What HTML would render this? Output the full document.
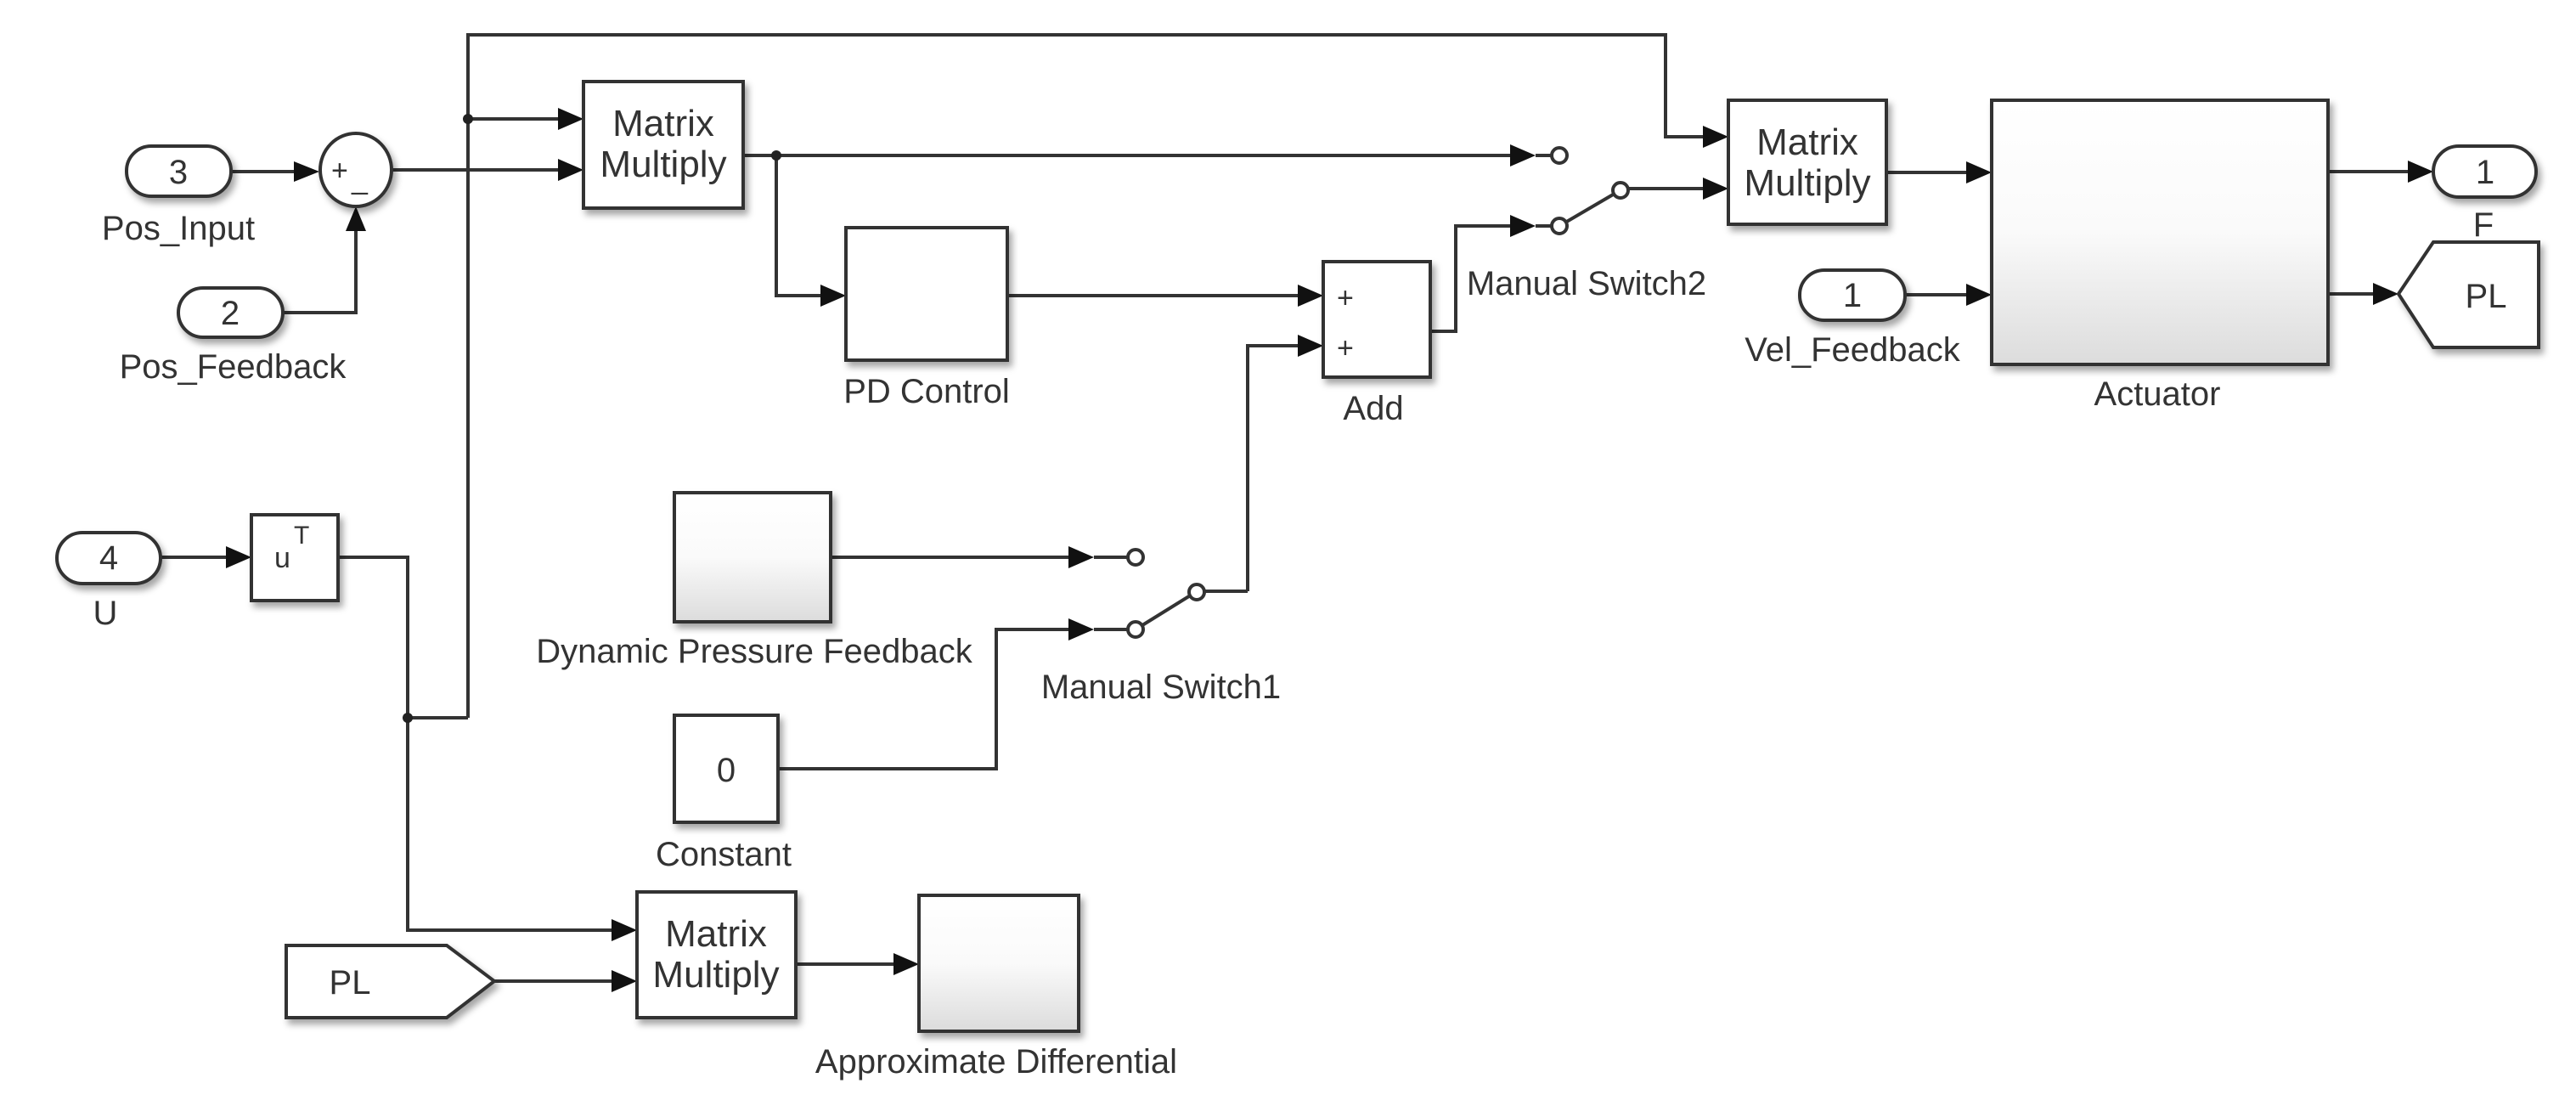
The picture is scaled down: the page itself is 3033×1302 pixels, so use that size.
<!DOCTYPE html>
<html><head><meta charset="utf-8"><style>
html,body{margin:0;padding:0;background:#fff}
svg{display:block}
text{font-family:"Liberation Sans",Arial,sans-serif;fill:#333}
</style></head><body>
<svg width="3033" height="1302" viewBox="0 0 3033 1302" xmlns="http://www.w3.org/2000/svg">
<defs>
<filter id="sh" x="-10%" y="-10%" width="130%" height="130%"><feDropShadow dx="4" dy="6" stdDeviation="4" flood-color="#000" flood-opacity="0.35"/></filter>
<linearGradient id="g" x1="0" y1="0" x2="0" y2="1"><stop offset="0" stop-color="#ffffff"/><stop offset="0.5" stop-color="#fafafa"/><stop offset="1" stop-color="#dcdcdc"/></linearGradient>
</defs>
<g fill="none" stroke="#333" stroke-width="4">
<polyline points="551,845 551,41 1961,41 1961,161 2010,161"/>
<line x1="551" y1="140" x2="665" y2="140"/>
<line x1="461" y1="200" x2="665" y2="200"/>
<line x1="272" y1="202" x2="350" y2="202"/>
<polyline points="333,368 419,368 419,270"/>
<line x1="875" y1="183" x2="1780" y2="183"/>
<polyline points="914,183 914,348 972,348"/>
<line x1="1186" y1="348" x2="1535" y2="348"/>
<polyline points="1469,696 1469,407 1535,407"/>
<polyline points="1684,390 1714,390 1714,266 1780,266"/>
<line x1="1836" y1="266" x2="1906" y2="225"/>
<line x1="1916" y1="222" x2="2010" y2="222"/>
<line x1="2221" y1="203" x2="2320" y2="203"/>
<line x1="2243" y1="347" x2="2320" y2="347"/>
<line x1="2741" y1="202" x2="2840" y2="202"/>
<line x1="2741" y1="346" x2="2800" y2="346"/>
<line x1="189" y1="656" x2="272" y2="656"/>
<polyline points="398,656 480,656 480,1095 726,1095"/>
<line x1="480" y1="845" x2="551" y2="845"/>
<line x1="978" y1="656" x2="1262" y2="656"/>
<polyline points="918,905 1173,905 1173,741 1262,741"/>
<line x1="1337" y1="741" x2="1403" y2="700"/>
<line x1="1413" y1="696" x2="1469" y2="696"/>
<line x1="582" y1="1155" x2="726" y2="1155"/>
<line x1="937" y1="1135" x2="1058" y2="1135"/>
</g>
<g fill="#222">
<circle cx="551" cy="140" r="6"/><circle cx="914" cy="183" r="6"/><circle cx="480" cy="845" r="6"/>
</g>
<g fill="#111">
<polygon points="346,190 376,202 346,214"/>
<polygon points="407,272 419,243 431,272"/>
<polygon points="657,127 687,140 657,153"/>
<polygon points="657,187 687,200 657,213"/>
<polygon points="966,335 996,348 966,361"/>
<polygon points="1528,335 1558,348 1528,361"/>
<polygon points="1528,394 1558,407 1528,420"/>
<polygon points="1778,170 1808,183 1778,196"/>
<polygon points="1778,253 1808,266 1778,279"/>
<polygon points="2005,148 2035,161 2005,174"/>
<polygon points="2005,209 2035,222 2005,235"/>
<polygon points="2315,190 2345,203 2315,216"/>
<polygon points="2315,334 2345,347 2315,360"/>
<polygon points="2835,189 2865,202 2835,215"/>
<polygon points="2794,333 2824,346 2794,359"/>
<polygon points="266,643 296,656 266,669"/>
<polygon points="1258,643 1288,656 1258,669"/>
<polygon points="1258,728 1288,741 1258,754"/>
<polygon points="720,1082 750,1095 720,1108"/>
<polygon points="720,1142 750,1155 720,1168"/>
<polygon points="1052,1122 1082,1135 1052,1148"/>
</g>
<g fill="#fff" stroke="#333" stroke-width="4">
<line x1="1808" y1="183" x2="1826" y2="183"/>
<line x1="1808" y1="266" x2="1826" y2="266"/>
<circle cx="1836" cy="183" r="9"/><circle cx="1836" cy="266" r="9"/><circle cx="1908" cy="224" r="9"/>
<line x1="1288" y1="656" x2="1328" y2="656"/>
<line x1="1288" y1="741" x2="1328" y2="741"/>
<circle cx="1337" cy="656" r="9"/><circle cx="1337" cy="741" r="9"/><circle cx="1409" cy="697" r="9"/>
</g>
<g stroke="#333" stroke-width="4" filter="url(#sh)">
<rect x="149" y="172" width="123" height="59" rx="29" fill="#fff"/>
<rect x="210" y="339" width="123" height="58" rx="29" fill="#fff"/>
<ellipse cx="419" cy="200" rx="42" ry="43" fill="#fff"/>
<rect x="687" y="96" width="188" height="149" fill="#fff"/>
<rect x="996" y="268" width="190" height="156" fill="#fff"/>
<rect x="1558" y="308" width="126" height="136" fill="#fff"/>
<rect x="2035" y="118" width="186" height="146" fill="#fff"/>
<rect x="2345" y="118" width="396" height="311" fill="url(#g)"/>
<rect x="2865" y="172" width="121" height="60" rx="30" fill="#fff"/>
<rect x="2119" y="318" width="124" height="59" rx="29" fill="#fff"/>
<rect x="67" y="627" width="122" height="60" rx="30" fill="#fff"/>
<rect x="296" y="606" width="102" height="101" fill="#fff"/>
<rect x="794" y="580" width="184" height="152" fill="url(#g)"/>
<rect x="794" y="842" width="122" height="126" fill="#fff"/>
<rect x="750" y="1050" width="187" height="148" fill="#fff"/>
<rect x="1082" y="1054" width="188" height="160" fill="url(#g)"/>
<polygon points="337,1113 526,1113 582,1155 526,1198 337,1198" fill="#fff"/>
</g>
<text x="2924" y="278" font-size="40" text-anchor="middle">F</text>
<polygon points="2824,346 2865,285 2989,285 2989,409 2865,409" fill="#fff" stroke="#333" stroke-width="4" filter="url(#sh)"/>
<g font-size="40" text-anchor="middle">
<text x="210" y="216">3</text>
<text x="271" y="382">2</text>
<text x="128" y="670">4</text>
<text x="2926" y="216">1</text>
<text x="2181" y="361">1</text>
<text x="2927" y="362">PL</text>
<text x="412" y="1170">PL</text>
<text x="855" y="920">0</text>
<text x="210" y="282">Pos_Input</text>
<text x="274" y="445">Pos_Feedback</text>
<text x="1091" y="474">PD Control</text>
<text x="1617" y="494">Add</text>
<text x="1868" y="347">Manual Switch2</text>
<text x="2181" y="425">Vel_Feedback</text>
<text x="2540" y="477">Actuator</text>
<text x="124" y="735">U</text>
<text x="888" y="780">Dynamic Pressure Feedback</text>
<text x="1367" y="822">Manual Switch1</text>
<text x="852" y="1019">Constant</text>
<text x="1173" y="1263">Approximate Differential</text>
</g>
<g font-size="44" text-anchor="middle">
<text x="781" y="160">Matrix</text><text x="781" y="208">Multiply</text>
<text x="2128" y="182">Matrix</text><text x="2128" y="230">Multiply</text>
<text x="843" y="1114">Matrix</text><text x="843" y="1162">Multiply</text>
</g>
<g font-size="34">
<text x="1574" y="362">+</text><text x="1574" y="421">+</text>
<text x="390" y="212">+</text><text x="414" y="222">_</text>
<text x="323" y="668">u</text><text x="346" y="640" font-size="30">T</text>
</g>
</svg>
</body></html>
